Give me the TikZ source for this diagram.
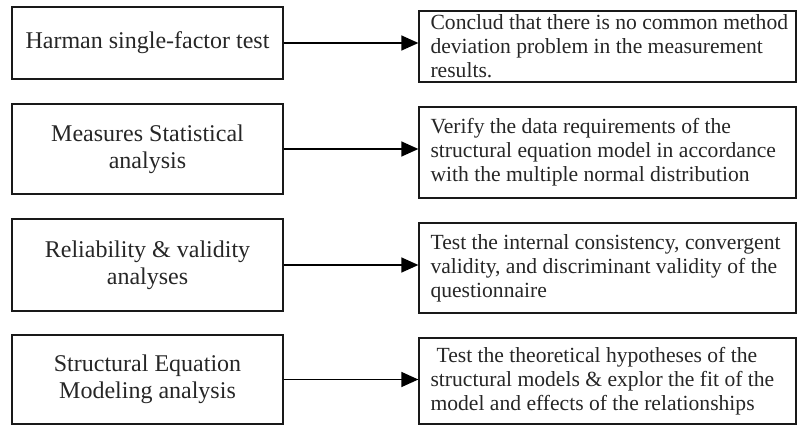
\documentclass[tikz,border=0pt]{standalone}
\usepackage{fontspec}
\setmainfont{Liberation Serif}
\usetikzlibrary{arrows.meta,positioning}

\begin{document}
\begin{tikzpicture}[x=1pt,y=-1pt,
  methodbox/.style={draw=black!90, line width=1.3pt, rectangle, minimum width=271pt,
    align=center, text=black!85, inner sep=0pt,
    font=\fontsize{24}{27}\selectfont},
  resultbox/.style={draw=black!90, line width=1.3pt, rectangle, minimum width=377pt,
    inner sep=0pt},
  resulttext/.style={anchor=west, align=left, inner sep=0pt, text=black!85,
    font=\fontsize{21.6}{24}\selectfont},
  link/.style={line width=1.4pt, -{Triangle[length=17pt,width=15pt]}}]
  \useasboundingbox (0,0) rectangle (798,428);

  % methods (left column)
  \node[methodbox, minimum height=72pt] (m1) at (147.5,43)  {Harman single-factor test};
  \node[methodbox, minimum height=90pt] (m2) at (147.5,149) {Measures Statistical\\analysis};
  \node[methodbox, minimum height=92pt] (m3) at (147.5,265) {Reliability \& validity\\analyses};
  \node[methodbox, minimum height=89pt] (m4) at (147.5,379.5) {Structural Equation\\Modeling analysis};

  % outcomes (right column): frames
  \node[resultbox, minimum height=71pt] (r1) at (607.5,46.5) {};
  \node[resultbox, minimum height=91pt] (r2) at (607.5,152.5) {};
  \node[resultbox, minimum height=90pt] (r3) at (607.5,268) {};
  \node[resultbox, minimum height=86pt] (r4) at (607.5,381) {};

  % outcomes: texts, left-aligned inside the frames
  \node[resulttext] (t1) at ([xshift=12pt]r1.west)
    {Conclud that there is no common method\\deviation problem in the measurement\\results.};
  \node[resulttext] (t2) at ([xshift=12pt]r2.west)
    {Verify the data requirements of the\\structural equation model in accordance\\with the multiple normal distribution};
  \node[resulttext] (t3) at ([xshift=12pt]r3.west)
    {Test the internal consistency, convergent\\validity, and discriminant validity of the\\questionnaire};
  \node[resulttext] (t4) at ([xshift=12pt]r4.west)
    {\hspace*{6pt}Test the theoretical hypotheses of the\\structural models \& explor the fit of the\\model and effects of the relationships};

  % connectors
  \foreach \i in {1,...,4}
    \draw[link] (m\i.east) -- (m\i.east -| r\i.west);
\end{tikzpicture}
\end{document}
